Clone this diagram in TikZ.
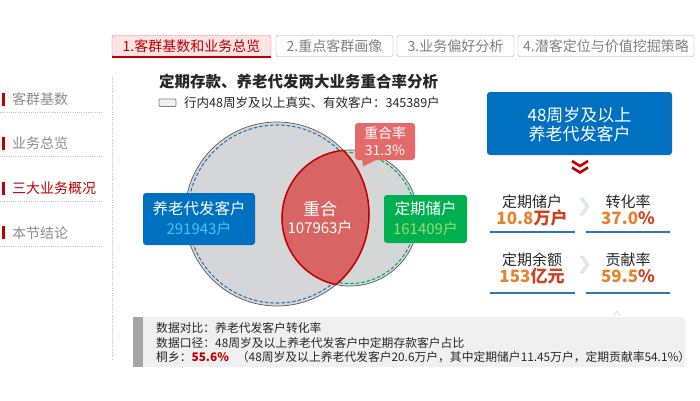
\documentclass[tikz,border=0pt]{standalone}
\usepackage{fontspec}
\setmainfont{Noto Sans CJK SC}
\definecolor{tabred}{HTML}{C00000}
\definecolor{tabpink}{HTML}{FBE4E4}
\definecolor{tabline}{HTML}{E07070}
\definecolor{graybd}{HTML}{A6A6A6}
\definecolor{graytext}{HTML}{7F7F7F}
\definecolor{sidegray}{HTML}{8C8C8C}
\definecolor{dotgray}{HTML}{BFBFBF}
\definecolor{venngray}{HTML}{D4D6D8}
\definecolor{vennline}{HTML}{595959}
\definecolor{dashblue}{HTML}{2E75B6}
\definecolor{dashgreen}{HTML}{00B050}
\definecolor{lensfill}{HTML}{D96464}
\definecolor{lensline}{HTML}{C00000}
\definecolor{callred}{HTML}{E46A6A}
\definecolor{boxblue}{HTML}{0070C0}
\definecolor{numcyan}{HTML}{3FCBF5}
\definecolor{boxgreen}{HTML}{00B050}
\definecolor{numgreen}{HTML}{9BDB6E}
\definecolor{numorange}{HTML}{E9822F}
\definecolor{unitred}{HTML}{D0401F}
\definecolor{lineblue}{HTML}{2E75B6}
\definecolor{notebg}{HTML}{F0F0F0}
\definecolor{notebar}{HTML}{A6A6A6}
\definecolor{darktext}{HTML}{262626}
\definecolor{notetext}{HTML}{262626}
\definecolor{chevfill}{HTML}{E6EBF1}
\definecolor{chevline}{HTML}{CDD5DE}
\begin{document}
\begin{tikzpicture}[x=1pt,y=-1pt,
  tabbase/.style={rounded corners=2pt, minimum height=21pt, inner sep=0pt, font=\fontsize{14}{16}\selectfont},
  tabon/.style={tabbase, draw=tabline, fill=tabpink, text=tabred},
  taboff/.style={tabbase, draw=graybd, fill=white, text=graytext},
  side/.style={anchor=west, text=sidegray, inner sep=0pt, font=\fontsize{14}{16}\selectfont},
  sideon/.style={side, text=tabred},
  sidebar/.style={fill=tabred},
  dotline/.style={dotgray, line width=0.8pt, dash pattern=on 1pt off 1.2pt},
  plain/.style={inner sep=0pt},
  whitetxt/.style={plain, text=white, font=\fontsize{15.5}{17}\selectfont},
  numtxt/.style={plain, font=\fontsize{15}{17}\selectfont},
  rowlbl/.style={plain, text=darktext, font=\fontsize{15}{17}\selectfont},
  rownum/.style={plain, font=\bfseries\fontsize{17}{19}\selectfont},
  uline/.style={lineblue, line width=2pt},
  chev/.style={fill=chevfill, draw=chevline, line width=0.5pt},
  notetxt/.style={plain, anchor=west, text=notetext, font=\fontsize{11.8}{13}\selectfont}
]
\useasboundingbox[fill=white] (0,0) rectangle (700,400);

% ---------- tabs ----------
\node[tabon, minimum width=159pt] (tab1) at (191.5,46) {1.客群基数和业务总览};
\draw[tabred, line width=2pt] (tab1.south west) -- (tab1.south east);
\node[taboff, minimum width=117pt] (tab2) at (334.5,46) {2.重点客群画像};
\node[taboff, minimum width=117pt] (tab3) at (455.5,46) {3.业务偏好分析};
\node[taboff, minimum width=176pt] (tab4) at (606,46) {4.潜客定位与价值挖掘策略};

% ---------- sidebar ----------
\fill[sidebar] (2,93) rectangle (4.5,106);
\node[side] (s1) at (12,99.5) {客群基数};
\draw[dotline] (0,112) -- (102,112);
\fill[sidebar] (2,137) rectangle (4.5,150);
\node[side] (s2) at (12,143.5) {业务总览};
\draw[dotline] (0,156) -- (102,156);
\fill[sidebar] (2,182) rectangle (4.5,195);
\node[sideon] (s3) at (12,188.5) {三大业务概况};
\draw[dotline] (0,201) -- (102,201);
\fill[sidebar] (2,226) rectangle (4.5,239);
\node[side] (s4) at (12,233) {本节结论};
\draw[dotline] (0,246) -- (102,246);
\draw[dotline] (112,77) -- (112,360);

% ---------- title & legend ----------
\node[plain, anchor=west, text=darktext, font=\bfseries\fontsize{15.5}{17}\selectfont] (title) at (159,82) {定期存款、养老代发两大业务重合率分析};
\draw[graytext, fill=notebg, line width=0.8pt, rounded corners=1pt] (159,99) rectangle (176,106.5);
\node[plain, anchor=west, text=notetext, font=\fontsize{12.5}{14}\selectfont] (legend) at (184,103) {行内48周岁及以上真实、有效客户：345389户};

% ---------- venn ----------
\coordinate (bigc) at (277,214);
\coordinate (smc) at (350,218);
\fill[venngray] (bigc) circle (92);
\fill[venngray] (smc) circle (68);
\draw[vennline, line width=0.7pt] (bigc) circle (92);
\draw[vennline, line width=0.7pt] (smc) circle (68);
\draw[dashblue, line width=1.1pt, dash pattern=on 3.5pt off 2pt] (bigc) circle (89);
\draw[dashgreen, line width=1.1pt, dash pattern=on 3.5pt off 2pt] (smc) circle (65.5);
\begin{scope}
  \clip (bigc) circle (92);
  \fill[lensfill] (smc) circle (68);
  \draw[lensline, line width=1.5pt] (smc) circle (68);
\end{scope}
\begin{scope}
  \clip (smc) circle (68);
  \draw[lensline, line width=1.5pt] (bigc) circle (92);
\end{scope}
\node[whitetxt, font=\fontsize{17}{19}\selectfont] (ov1) at (320,209) {重合};
\node[numtxt, text=white] (ov2) at (320,228) {107963户};

% left blue box
\node[fill=boxblue, rounded corners=3pt, minimum width=112pt, minimum height=52pt, inner sep=0pt] (ylbox) at (199,219) {};
\node[whitetxt] (yl1) at (199,208.5) {养老代发客户};
\node[numtxt, text=numcyan] (yl2) at (199,228.5) {291943户};

% green box
\node[fill=boxgreen, rounded corners=3pt, minimum width=83pt, minimum height=48pt, inner sep=0pt] (dqbox) at (425.5,219) {};
\node[whitetxt] (dq1) at (425.5,209) {定期储户};
\node[numtxt, text=numgreen] (dq2) at (425.5,228.5) {161409户};

% callout
\node[fill=callred, rounded corners=3pt, minimum width=60pt, minimum height=37pt, inner sep=0pt] (call) at (385,141.5) {};
\fill[callred] (362,159) -- (378,159) -- (363,166.5) -- cycle;
\node[plain, text=white, font=\fontsize{14}{16}\selectfont] (call1) at (385,133) {重合率};
\node[plain, text=white, font=\fontsize{14}{16}\selectfont] (call2) at (385,150) {31.3\%};

% ---------- right panel ----------
\node[fill=boxblue, rounded corners=3pt, minimum width=185pt, minimum height=63pt, inner sep=0pt] (age) at (579.5,123.5) {};
\node[plain, text=white, font=\fontsize{17}{19}\selectfont] (age1) at (579.5,115) {48周岁及以上};
\node[plain, text=white, font=\fontsize{17}{19}\selectfont] (age2) at (579.5,134) {养老代发客户};
\draw[tabred, line width=2.6pt] (572,161) -- (580,166) -- (588,161);
\draw[tabred, line width=2.6pt] (572,167.5) -- (580,172.5) -- (588,167.5);

\node[rowlbl] (r1a) at (532,202) {定期储户};
\node[rownum] (r1b) at (532,218) {\textcolor{numorange}{10.8}\textcolor{unitred}{万户}};
\draw[uline] (490,232) -- (575,232);
\draw[chev] (580,198) -- (583,198) -- (589,206.5) -- (583,215) -- (580,215) -- (586,206.5) -- cycle;
\node[rowlbl] (r1c) at (628,202) {转化率};
\node[rownum] (r1d) at (628,218) {\textcolor{numorange}{37.0}\textcolor{unitred}{\%}};
\draw[uline] (586,232) -- (670,232);

\node[rowlbl] (r2a) at (532,260) {定期余额};
\node[rownum] (r2b) at (532,276) {\textcolor{numorange}{153}\textcolor{unitred}{亿元}};
\draw[uline] (490,293) -- (575,293);
\draw[chev] (580,256) -- (583,256) -- (589,264.5) -- (583,273) -- (580,273) -- (586,264.5) -- cycle;
\node[rowlbl] (r2c) at (628,260) {贡献率};
\node[rownum] (r2d) at (628,276) {\textcolor{numorange}{59.5}\textcolor{unitred}{\%}};
\draw[uline] (586,293) -- (670,293);

% ---------- note ----------
\node[fill=notebg, minimum width=552pt, minimum height=50pt, anchor=north west, inner sep=0pt] (note) at (133,317) {};
\fill[notebar] (133,317) rectangle (143,367);
\draw[black!25, line width=0.4pt] (614,315.5) -- (617,311) -- (620,315.5);
\node[notetxt] (n1) at (156,327.5) {数据对比：养老代发客户转化率};
\node[notetxt] (n2) at (156,342.5) {数据口径：48周岁及以上养老代发客户中定期存款客户占比};
\node[notetxt] (n3) at (156,357) {桐乡：\textcolor{tabred}{\bfseries 55.6\%}\hspace{8pt}（48周岁及以上养老代发客户20.6万户，其中定期储户11.45万户，定期贡献率54.1\%）};
\end{tikzpicture}
\end{document}
